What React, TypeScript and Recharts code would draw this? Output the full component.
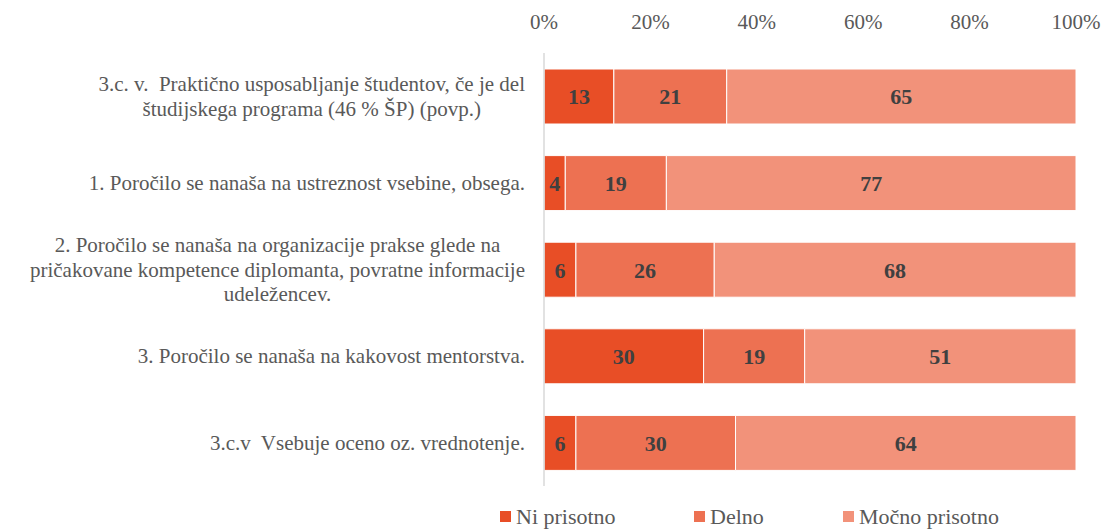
import React from 'react';
import { BarChart, Bar, XAxis, YAxis, LabelList } from 'recharts';

const categories = [
  '3.c. v.  Praktično usposabljanje študentov, če je del\nštudijskega programa (46 % ŠP) (povp.)',
  '1. Poročilo se nanaša na ustreznost vsebine, obsega.',
  '2. Poročilo se nanaša na organizacije prakse glede na\npričakovane kompetence diplomanta, povratne informacije\nudeležencev.',
  '3. Poročilo se nanaša na kakovost mentorstva.',
  '3.c.v  Vsebuje oceno oz. vrednotenje.',
];
const niPrisotno = [13, 4, 6, 30, 6];
const delno = [21, 19, 26, 19, 30];
const mocnoPrisotno = [65, 77, 68, 51, 64];
const xTicks = [0, 0.2, 0.4, 0.6, 0.8, 1];

const SERIES = [
  { key: 'ni', name: 'Ni prisotno', color: '#E84E26', left: 500 },
  { key: 'delno', name: 'Delno', color: '#ED7152', left: 694 },
  { key: 'mocno', name: 'Močno prisotno', color: '#F2927A', left: 843 },
];

const data = categories.map((name, i) => ({
  name,
  ni: niPrisotno[i],
  delno: delno[i],
  mocno: mocnoPrisotno[i],
}));

const FONT = "'Liberation Serif', serif";
const TEXT = '#595959';
const CAT_SIZE = 21;

let ctx: CanvasRenderingContext2D | null = null;
const measure = (s: string) => {
  if (!ctx) ctx = document.createElement('canvas').getContext('2d');
  if (!ctx) return s.length * 9;
  ctx.font = `${CAT_SIZE}px ${FONT}`;
  return ctx.measureText(s).width;
};

const CategoryTick = (props: any) => {
  const { x, y, payload } = props;
  const lines: string[] = String(payload.value).split('\n');
  const right = x - 11;
  const lh = 24.5;
  const top = y - ((lines.length - 1) * lh) / 2;
  if (lines.length === 1) {
    return (
      <text x={right} y={y} textAnchor="end" dominantBaseline="central"
        fill={TEXT} fontSize={CAT_SIZE} fontFamily={FONT} style={{ whiteSpace: 'pre' }}>
        {lines[0]}
      </text>
    );
  }
  // multi-line labels are centred on their widest line
  const maxW = Math.max(...lines.map(measure));
  const cx = right - maxW / 2;
  return (
    <text textAnchor="middle" fill={TEXT} fontSize={CAT_SIZE} fontFamily={FONT} style={{ whiteSpace: 'pre' }}>
      {lines.map((l, i) => (
        <tspan key={i} x={cx} y={top + i * lh} dominantBaseline="central">{l}</tspan>
      ))}
    </text>
  );
};

const ChartLegend = () => (
  <>
    {SERIES.map(s => (
      <div key={s.key} style={{
        position: 'absolute', left: s.left, top: 504, display: 'flex', alignItems: 'center',
        fontFamily: FONT, fontSize: 22, color: TEXT, lineHeight: '25px', whiteSpace: 'nowrap',
      }}>
        <span style={{ width: 11, height: 11, background: s.color, display: 'inline-block', marginRight: 5 }} />
        <span>{s.name}</span>
      </div>
    ))}
  </>
);

export default function App() {
  return (
    <div style={{ position: 'absolute', left: 0, top: 0, width: 1103, height: 530, background: '#fff', overflow: 'hidden' }}>
      <BarChart
        width={1103}
        height={530}
        data={data}
        layout="vertical"
        stackOffset="expand"
        barCategoryGap={0}
        margin={{ top: 52, right: 27, bottom: 44, left: 0 }}
      >
        <XAxis
          type="number"
          orientation="top"
          domain={[0, 1]}
          ticks={xTicks}
          tickFormatter={(v: number) => `${Math.round(v * 100)}%`}
          axisLine={false}
          tickLine={false}
          height={1}
          tickMargin={18}
          tick={{ fill: TEXT, fontSize: 21, fontFamily: FONT }}
        />
        <YAxis
          type="category"
          dataKey="name"
          width={544}
          axisLine={{ stroke: '#D9D9D9', strokeWidth: 1.5 }}
          tickLine={false}
          tick={<CategoryTick />}
          interval={0}
        />
        {SERIES.map(s => (
          <Bar key={s.key} dataKey={s.key} name={s.name} stackId="a" fill={s.color}
            stroke="#ffffff" strokeWidth={1} barSize={55} isAnimationActive={false}>
            <LabelList dataKey={s.key} position="center" fill="#404040" fontSize={22}
              fontWeight="bold" fontFamily={FONT} />
          </Bar>
        ))}
      </BarChart>
      <ChartLegend />
    </div>
  );
}
